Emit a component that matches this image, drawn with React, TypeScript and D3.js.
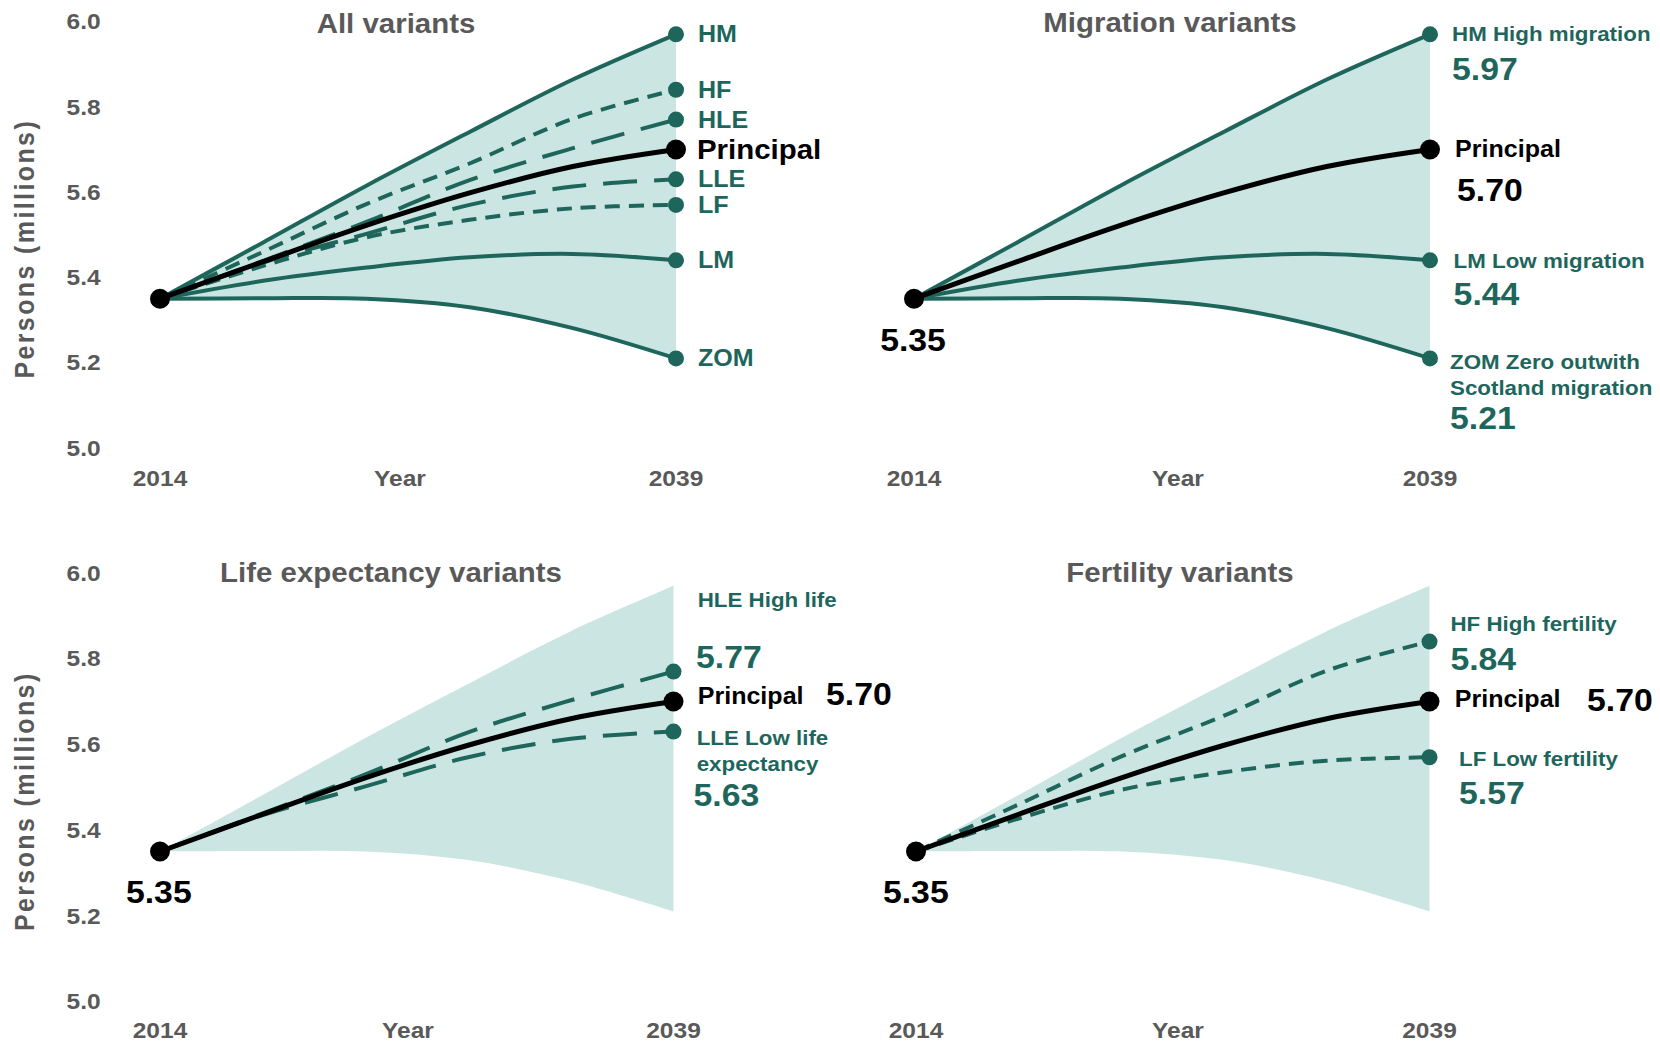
import React from 'react';
import * as d3 from 'd3';

// ---------- data ----------
const years = [2014, 2019, 2024, 2029, 2034, 2039];
const principal = [5.35, 5.437, 5.522, 5.598, 5.66, 5.7];
const hm = [5.35, 5.482, 5.615, 5.741, 5.864, 5.97];
const hf = [5.35, 5.46, 5.572, 5.667, 5.772, 5.84];
const hle = [5.35, 5.439, 5.53, 5.628, 5.703, 5.77];
const lle = [5.35, 5.435, 5.502, 5.57, 5.613, 5.63];
const lf = [5.35, 5.427, 5.494, 5.535, 5.562, 5.57];
const lm = [5.35, 5.392, 5.423, 5.447, 5.455, 5.44];
const zom = [5.35, 5.351, 5.35, 5.33, 5.281, 5.21];

const yTicks = [5.0, 5.2, 5.4, 5.6, 5.8, 6.0];
const xTickLabels = ['2014', 'Year', '2039'];
const panelTitles = ['All variants', 'Migration variants', 'Life expectancy variants', 'Fertility variants'];
const yAxisTitle = 'Persons (millions)';
const principalName = 'Principal';
const codes = { HM: 'HM', HF: 'HF', HLE: 'HLE', LLE: 'LLE', LF: 'LF', LM: 'LM', ZOM: 'ZOM' };
const descs = {
  HM: ['High migration'],
  LM: ['Low migration'],
  ZOM: ['Zero outwith', 'Scotland migration'],
  HLE: ['High life'],
  LLE: ['Low life', 'expectancy'],
  HF: ['High fertility'],
  LF: ['Low fertility'],
};

// ---------- style ----------
const TEAL = '#1e665c';
const FILL = '#cbe6e2';
const GREY = '#595959';
const FONT = "'Liberation Sans', Arial, Helvetica, sans-serif";
const SX = 1.09;
const SHORT = '15,9';
const LONG = '34,17';

const seriesMap: Record<string, { values: number[]; dash: string | null }> = {
  HM: { values: hm, dash: null },
  HF: { values: hf, dash: SHORT },
  HLE: { values: hle, dash: LONG },
  LLE: { values: lle, dash: LONG },
  LF: { values: lf, dash: SHORT },
  LM: { values: lm, dash: null },
  ZOM: { values: zom, dash: null },
};

const fmt = d3.format('.2f');
const last = (a: number[]) => a[a.length - 1];
const CURVE = d3.curveCatmullRom.alpha(0.5);

function Txt({ x, y, size, fill, anchor = 'start', children, ls = 0 }: any) {
  const base = y + 0.344 * size;
  return (
    <text
      transform={`translate(${x},${base}) scale(${SX},1)`}
      textAnchor={anchor}
      fontSize={size}
      fontWeight={700}
      fill={fill}
      fontFamily={FONT}
      letterSpacing={ls}
    >
      {children}
    </text>
  );
}

type Lbl = { text: string; x: number; y: number; size: number; color: string; anchor?: string };

function Panel({ p }: { p: any }) {
  const x = d3.scaleLinear().domain([years[0], last(years)]).range([p.x0, p.x1]);
  const y = d3.scaleLinear().domain([5, 6]).range([p.yBot, p.yTop]);
  const line = d3
    .line<number>()
    .x((_, i) => x(years[i]))
    .y((d) => y(d))
    .curve(CURVE);
  const area = d3
    .area<number>()
    .x((_, i) => x(years[i]))
    .y0((_, i) => y(zom[i]))
    .y1((_, i) => y(hm[i]))
    .curve(CURVE);

  return (
    <g>
      <path d={area(years.map(() => 0)) || ''} fill={FILL} />
      {p.lines.map((k: string) => (
        <path
          key={k}
          d={line(seriesMap[k].values) || ''}
          fill="none"
          stroke={TEAL}
          strokeWidth={4}
          strokeDasharray={seriesMap[k].dash || undefined}
        />
      ))}
      <path d={line(principal) || ''} fill="none" stroke="#000" strokeWidth={5} />
      {p.lines.map((k: string) => (
        <circle key={k} cx={x(last(years))} cy={y(last(seriesMap[k].values))} r={8} fill={TEAL} />
      ))}
      <circle cx={x(years[0])} cy={y(principal[0])} r={10} fill="#000" />
      <circle cx={x(last(years))} cy={y(last(principal))} r={10} fill="#000" />

      {/* title */}
      <Txt x={p.titleX} y={p.titleY} size={27} fill={GREY} anchor="middle">
        {p.title}
      </Txt>

      {/* y axis */}
      {p.showYAxis &&
        yTicks.map((t) => (
          <Txt key={t} x={100.6} y={y(t)} size={22.5} fill={GREY} anchor="end">
            {d3.format('.1f')(t)}
          </Txt>
        ))}
      {p.showYAxis && (
        <text
          transform={`translate(34,${(y(5) + y(6)) / 2 + 14}) scale(${SX},1) rotate(-90)`}
          textAnchor="middle"
          fontSize={25}
          fontWeight={700}
          fill={GREY}
          fontFamily={FONT}
          letterSpacing={2.4}
        >
          {yAxisTitle}
        </text>
      )}

      {/* x labels */}
      <Txt x={x(years[0])} y={p.tickY} size={22.5} fill={GREY} anchor="middle">
        {xTickLabels[0]}
      </Txt>
      <Txt x={p.yearX} y={p.tickY} size={22.5} fill={GREY} anchor="middle">
        {xTickLabels[1]}
      </Txt>
      <Txt x={x(last(years))} y={p.tickY} size={22.5} fill={GREY} anchor="middle">
        {xTickLabels[2]}
      </Txt>

      {p.labels.map((l: Lbl, i: number) => (
        <Txt key={i} x={l.x} y={l.y} size={l.size} fill={l.color} anchor={l.anchor || 'start'}>
          {l.text}
        </Txt>
      ))}
    </g>
  );
}

// ---------- layout ----------
const yTopScale = d3.scaleLinear().domain([5, 6]).range([448, 21.5]);

const tlLabels: Lbl[] = [
  ...['HM', 'HF', 'HLE', 'LLE', 'LF', 'LM', 'ZOM'].map((k) => ({
    text: (codes as any)[k],
    x: 698,
    y: yTopScale(last(seriesMap[k].values)),
    size: 23,
    color: TEAL,
  })),
  { text: principalName, x: 697, y: yTopScale(last(principal)), size: 27, color: '#000' },
];

const trLabels: Lbl[] = [
  { text: `${codes.HM} ${descs.HM[0]}`, x: 1452, y: 33.7, size: 20.5, color: TEAL },
  { text: fmt(last(hm)), x: 1452, y: 69.2, size: 31, color: TEAL },
  { text: principalName, x: 1455, y: 148.7, size: 23, color: '#000' },
  { text: fmt(last(principal)), x: 1457, y: 190.8, size: 31, color: '#000' },
  { text: `${codes.LM} ${descs.LM[0]}`, x: 1453.6, y: 260.8, size: 20.5, color: TEAL },
  { text: fmt(last(lm)), x: 1453.6, y: 294.7, size: 31, color: TEAL },
  { text: `${codes.ZOM} ${descs.ZOM[0]}`, x: 1450, y: 361.8, size: 20.5, color: TEAL },
  { text: descs.ZOM[1], x: 1450, y: 387.5, size: 20.5, color: TEAL },
  { text: fmt(last(zom)), x: 1450, y: 418, size: 31, color: TEAL },
  { text: fmt(principal[0]), x: 913, y: 340.8, size: 31, color: '#000', anchor: 'middle' },
];

const blLabels: Lbl[] = [
  { text: `${codes.HLE} ${descs.HLE[0]}`, x: 697.7, y: 600.1, size: 20.5, color: TEAL },
  { text: fmt(last(hle)), x: 696, y: 657, size: 31, color: TEAL },
  { text: principalName, x: 697.7, y: 696.4, size: 23, color: '#000' },
  { text: fmt(last(principal)), x: 826, y: 694.5, size: 31, color: '#000' },
  { text: `${codes.LLE} ${descs.LLE[0]}`, x: 696.7, y: 738.2, size: 20.5, color: TEAL },
  { text: descs.LLE[1], x: 696.7, y: 764, size: 20.5, color: TEAL },
  { text: fmt(last(lle)), x: 693.5, y: 795.8, size: 31, color: TEAL },
  { text: fmt(principal[0]), x: 158.8, y: 892.1, size: 31, color: '#000', anchor: 'middle' },
];

const brLabels: Lbl[] = [
  { text: `${codes.HF} ${descs.HF[0]}`, x: 1450.4, y: 624, size: 20.5, color: TEAL },
  { text: fmt(last(hf)), x: 1450.4, y: 659.1, size: 31, color: TEAL },
  { text: principalName, x: 1454.7, y: 699.5, size: 23, color: '#000' },
  { text: fmt(last(principal)), x: 1587, y: 700.4, size: 31, color: '#000' },
  { text: `${codes.LF} ${descs.LF[0]}`, x: 1459, y: 758.5, size: 20.5, color: TEAL },
  { text: fmt(last(lf)), x: 1459, y: 793.2, size: 31, color: TEAL },
  { text: fmt(principal[0]), x: 915.8, y: 892.4, size: 31, color: '#000', anchor: 'middle' },
];

const panels = [
  {
    title: panelTitles[0], titleX: 396, titleY: 23.7, x0: 160, x1: 676, yTop: 21.5, yBot: 448,
    yearX: 400, tickY: 478.5, showYAxis: true,
    lines: ['HM', 'HF', 'HLE', 'LLE', 'LF', 'LM', 'ZOM'], labels: tlLabels,
  },
  {
    title: panelTitles[1], titleX: 1170, titleY: 22.5, x0: 914, x1: 1430, yTop: 21.5, yBot: 448,
    yearX: 1178, tickY: 478.5, showYAxis: false,
    lines: ['HM', 'LM', 'ZOM'], labels: trLabels,
  },
  {
    title: panelTitles[2], titleX: 391, titleY: 572.5, x0: 160, x1: 673.5, yTop: 573, yBot: 1001.5,
    yearX: 408, tickY: 1030, showYAxis: true,
    lines: ['HLE', 'LLE'], labels: blLabels,
  },
  {
    title: panelTitles[3], titleX: 1180, titleY: 573, x0: 916, x1: 1429.5, yTop: 573, yBot: 1001.5,
    yearX: 1178, tickY: 1030, showYAxis: false,
    lines: ['HF', 'LF'], labels: brLabels,
  },
];

export default function App() {
  return (
    <svg
      width={1660}
      height={1044}
      viewBox="0 0 1660 1044"
      style={{ position: 'absolute', left: 0, top: 0, background: '#fff' }}
    >
      <rect width={1660} height={1044} fill="#fff" />
      {panels.map((p, i) => (
        <Panel key={i} p={p} />
      ))}
    </svg>
  );
}
